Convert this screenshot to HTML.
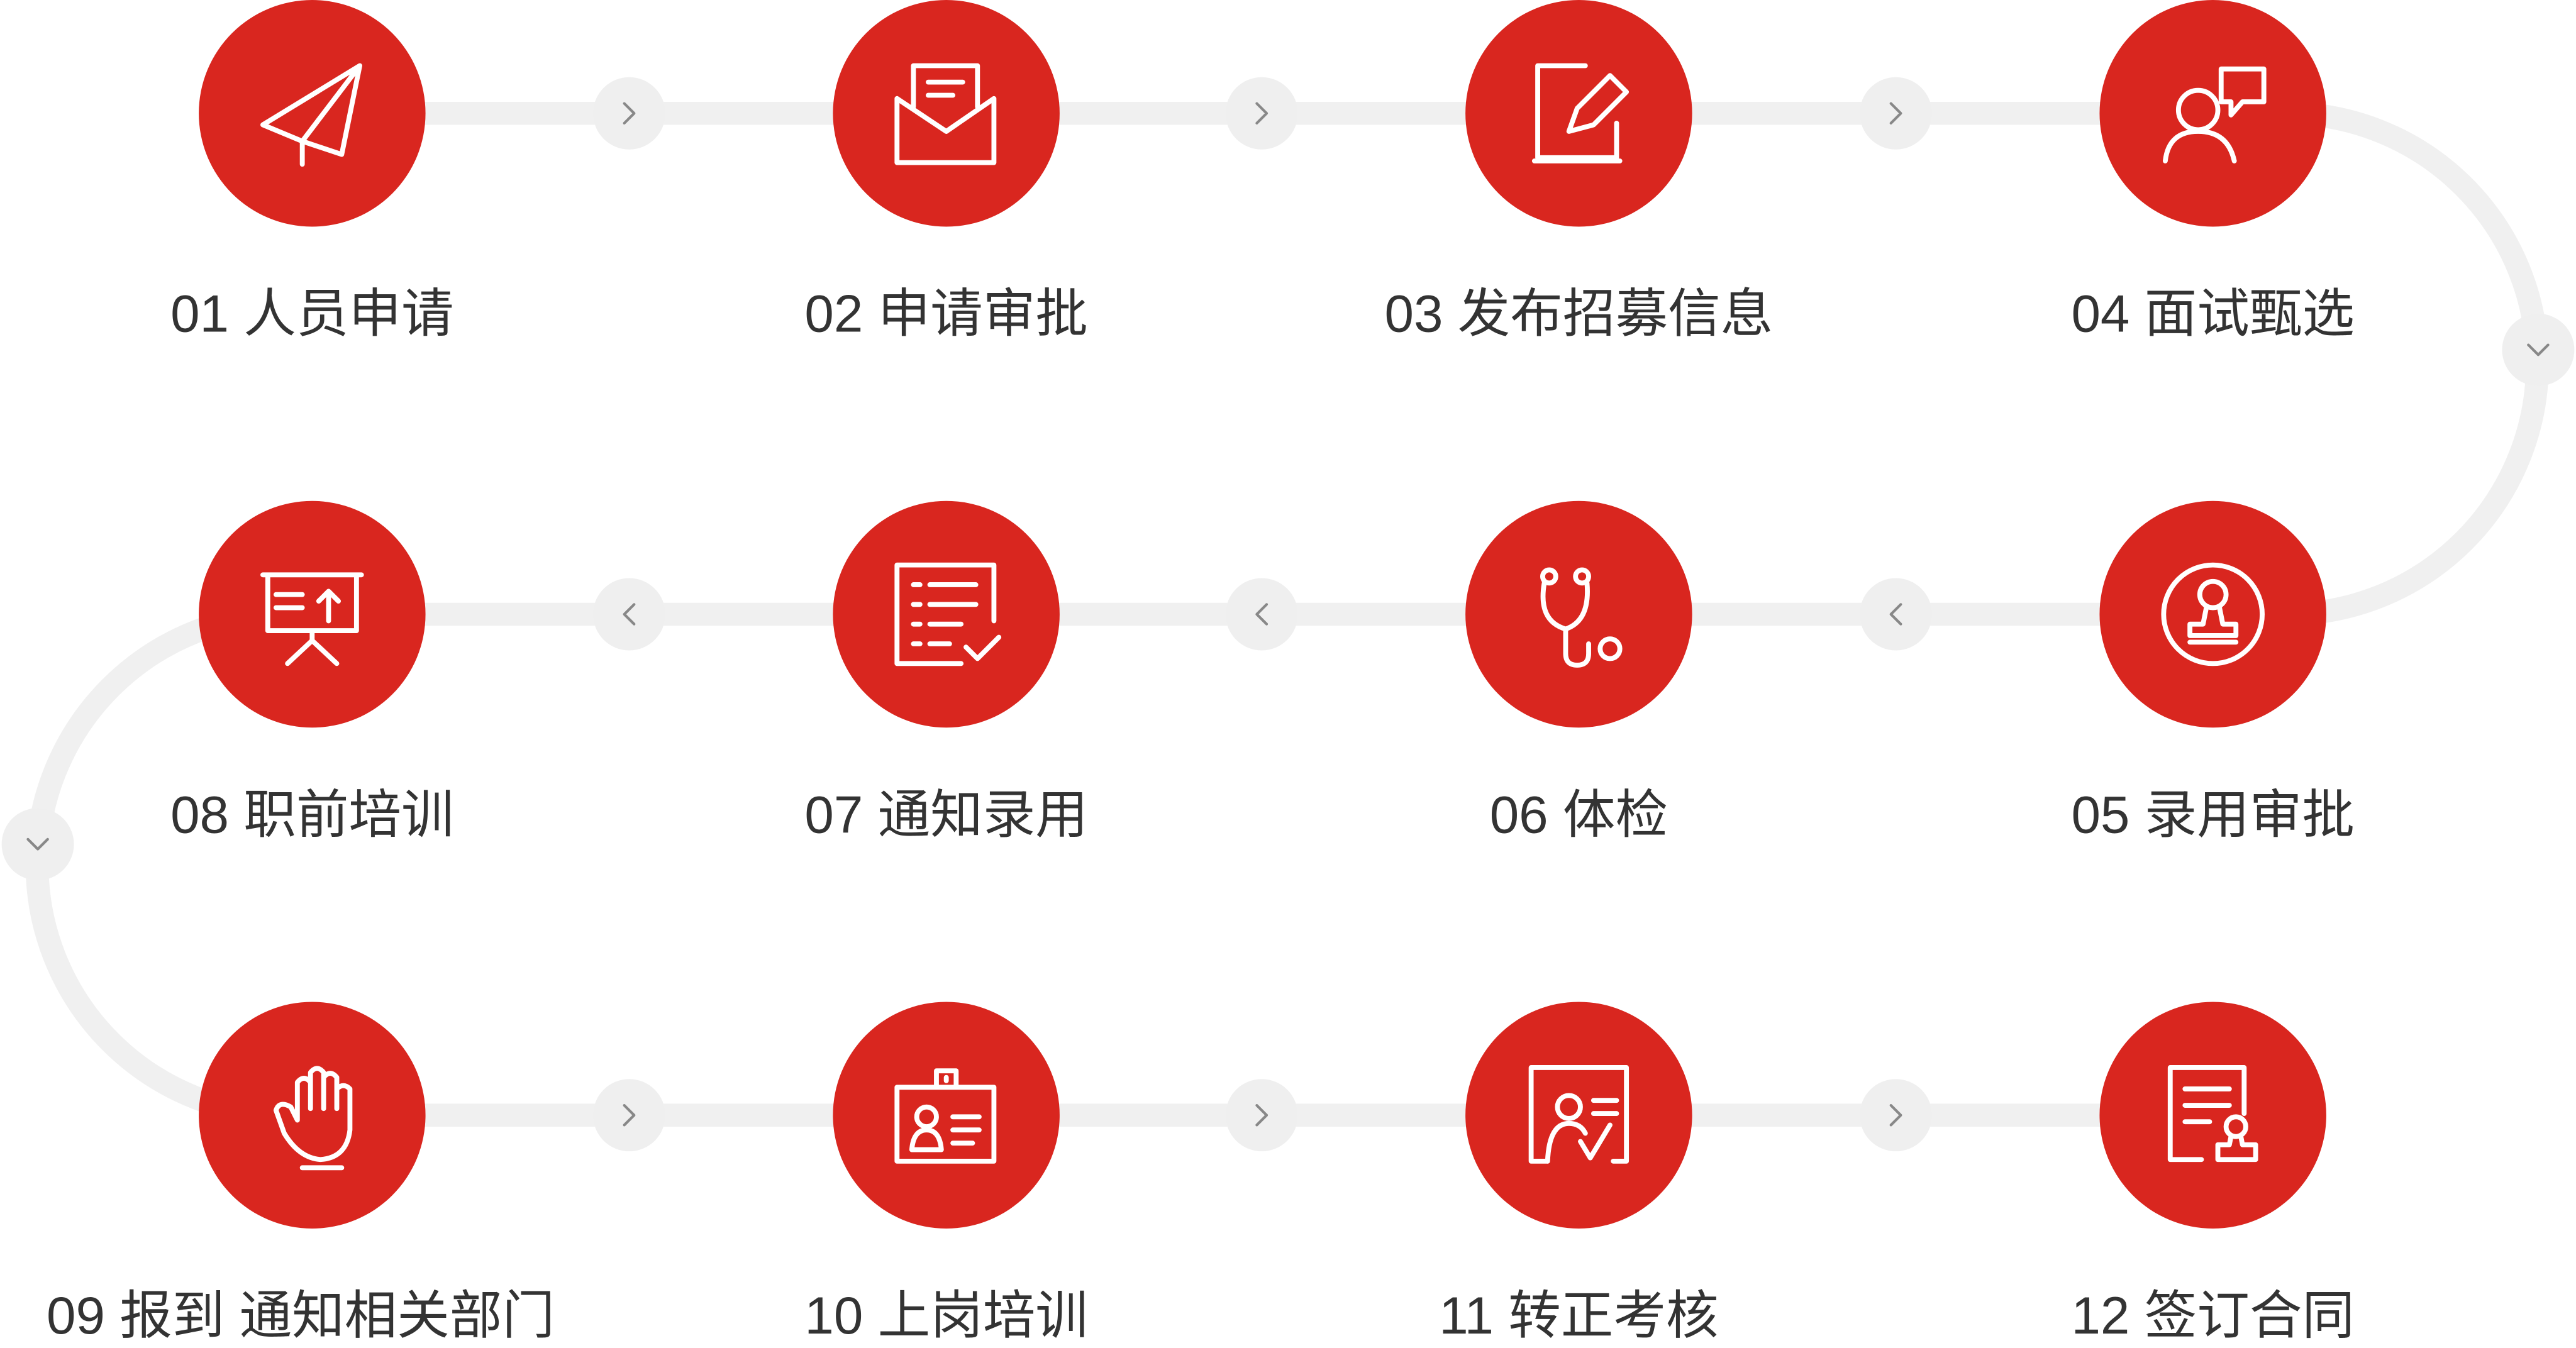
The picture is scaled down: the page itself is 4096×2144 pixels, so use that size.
<!DOCTYPE html>
<html><head><meta charset="utf-8"><style>html,body{margin:0;padding:0;background:#fff}svg{display:block}</style></head>
<body>
<svg width="4096" height="2144" viewBox="0 0 1568 820.75" xmlns="http://www.w3.org/2000/svg">
<g fill="none" stroke="#f0f0f0" stroke-width="14">
<path d="M190 69 H1392 A152.5 152.5 0 0 1 1392 374 H175 A152.5 152.5 0 0 0 175 679 H1347"/>
</g>
<g fill="#efefef">
<circle cx="383" cy="69" r="22"/><circle cx="768" cy="69" r="22"/><circle cx="1154" cy="69" r="22"/>
<circle cx="383" cy="374" r="22"/><circle cx="768" cy="374" r="22"/><circle cx="1154" cy="374" r="22"/>
<circle cx="383" cy="679" r="22"/><circle cx="768" cy="679" r="22"/><circle cx="1154" cy="679" r="22"/>
<circle cx="1545" cy="213" r="22"/><circle cx="23" cy="514" r="22"/>
</g>
<g fill="none" stroke="#888" stroke-width="1.6" stroke-linecap="round" stroke-linejoin="round">
<path d="M380 63 l6 6 -6 6"/><path d="M765 63 l6 6 -6 6"/><path d="M1151 63 l6 6 -6 6"/>
<path d="M386 368 l-6 6 6 6"/><path d="M771 368 l-6 6 6 6"/><path d="M1157 368 l-6 6 6 6"/>
<path d="M380 673 l6 6 -6 6"/><path d="M765 673 l6 6 -6 6"/><path d="M1151 673 l6 6 -6 6"/>
<path d="M1539 210 l6 6 6 -6"/><path d="M17 511 l6 6 6 -6"/>
</g>
<g fill="#d9261f">
<circle cx="190" cy="69" r="69"/><circle cx="576" cy="69" r="69"/><circle cx="961" cy="69" r="69"/><circle cx="1347" cy="69" r="69"/>
<circle cx="190" cy="374" r="69"/><circle cx="576" cy="374" r="69"/><circle cx="961" cy="374" r="69"/><circle cx="1347" cy="374" r="69"/>
<circle cx="190" cy="679" r="69"/><circle cx="576" cy="679" r="69"/><circle cx="961" cy="679" r="69"/><circle cx="1347" cy="679" r="69"/>
</g>
<g fill="none" stroke="#fff" stroke-width="3" stroke-linejoin="round" stroke-linecap="round">
<!-- 01 plane -->
<path d="M160 76 L219 40 L208 94 L184 86 Z M184 86 L184 100 M184 86 L219 40"/>
<!-- 02 envelope -->
<path d="M546 60 V99 H605 V60 L576 80 Z M556 65 V40 H595 V65 M565 50 H586 M565 58 H580"/>
<!-- 03 edit -->
<path d="M936 40 H965 M936 40 V96 H984 V75 M934 98 H986 M955 80 L960 66 L980 46 L990 56 L970 76 Z"/>
<!-- 04 interview -->
<circle cx="1338" cy="67" r="12"/><path d="M1318 98 Q1320 80 1338 80 Q1356 80 1360 98 M1352 42 H1378 V62 H1365 L1358 70 V62 H1352 Z"/>
<!-- 05 stamp -->
<circle cx="1347" cy="374" r="30"/><circle cx="1347" cy="362" r="8"/><path d="M1343 370 L1341 380 H1333 V387 H1361 V380 H1353 L1351 370 M1333 391 H1361"/>
<!-- 06 stethoscope -->
<circle cx="943" cy="351" r="4"/><circle cx="963" cy="351" r="4"/><path d="M940 355 Q936 378 953 383 Q968 378 966 355 M953 383 V398 Q953 405 960 405 Q967 405 967 398 V392"/><circle cx="980" cy="395" r="6"/>
<!-- 07 list -->
<path d="M546 344 H605 V378 M546 344 V404 H585 M556 356 H560 M566 356 H594 M556 368 H560 M566 368 H594 M556 380 H560 M566 380 H585 M556 392 H560 M566 392 H578 M588 394 L595 401 L608 388"/>
<!-- 08 board -->
<path d="M160 350 H220 M163 350 V384 H217 V350 M190 384 V390 M175 404 L190 390 L205 404 M168 362 H184 M168 370 H184 M200 378 L200 362 M194 366 L200 360 L206 366"/>
<!-- 09 hand -->
<path d="M173 690 L168 676 Q170 670 177 674 L181 682 V659 Q185 654 189 659 V675 V653 Q193 648 197 653 V675 V656 Q201 651 205 656 V675 V663 Q209 659 213 663 V688 Q211 705 195 706 Q182 705 173 690 Z M184 711 H208"/>
<!-- 10 badge -->
<path d="M546 662 H605 V707 H546 Z M570 662 V652 H582 V662 M576 656 V658"/><circle cx="564" cy="680" r="6"/><path d="M555 700 Q556 688 564 688 Q572 688 573 700 Z M580 680 H596 M580 688 H596 M580 696 H592"/>
<!-- 11 person doc -->
<path d="M932 707 V650 H990 V707 H982 M932 707 H942"/><circle cx="955" cy="674" r="7"/><path d="M942 707 Q943 684 955 684 Q962 684 965 690 M962 695 L968 705 L980 685 M970 670 H984 M970 678 H984"/>
<!-- 12 contract -->
<path d="M1321 650 H1366 V678 M1321 650 V706 H1340 M1330 663 H1357 M1330 673 H1357 M1330 683 H1345"/><circle cx="1361" cy="686" r="6"/><path d="M1358 692 L1357 697 H1350 V706 H1373 V697 H1365 L1364 692"/>
</g>
<g font-family="'Liberation Sans','Noto Sans CJK SC',sans-serif" font-size="32" fill="#333" text-anchor="middle">
<text x="190" y="202">01 人员申请</text>
<text x="576" y="202">02 申请审批</text>
<text x="961" y="202">03 发布招募信息</text>
<text x="1347" y="202">04 面试甄选</text>
<text x="190" y="507">08 职前培训</text>
<text x="576" y="507">07 通知录用</text>
<text x="961" y="507">06 体检</text>
<text x="1347" y="507">05 录用审批</text>
<text x="183" y="812">09 报到 通知相关部门</text>
<text x="576" y="812">10 上岗培训</text>
<text x="961" y="812">11 转正考核</text>
<text x="1347" y="812">12 签订合同</text>
</g>
</svg>
</body></html>
